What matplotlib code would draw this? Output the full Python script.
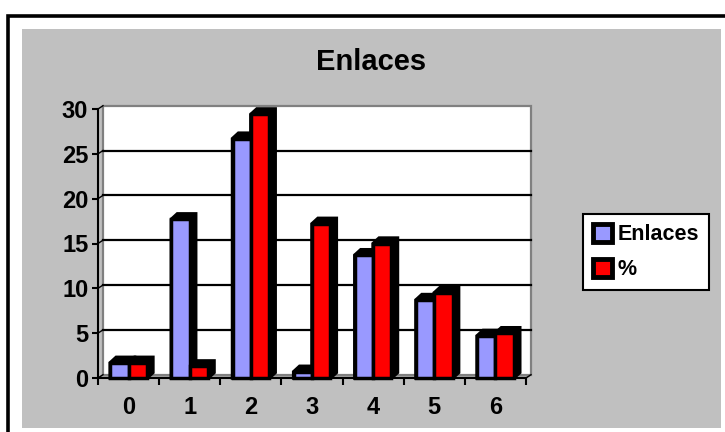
import numpy as np
from matplotlib import pyplot as plt
from matplotlib.patches import Rectangle, Polygon, Patch

categorias = ['0', '1', '2', '3', '4', '5', '6']
enlaces = [2, 18, 27, 1, 14, 9, 5]
porcentaje = [2.0, 1.6, 29.7, 17.5, 15.3, 9.8, 5.3]
y_ticks = [0, 5, 10, 15, 20, 25, 30]
series = ['Enlaces', '%']
colores = ['#9999FF', '#FF0000']

W, H = 725, 432
GRIS = '#C0C0C0'


def main():

	plt.rcParams['font.family'] = ['Liberation Sans', 'DejaVu Sans']
	plt.rcParams['font.weight'] = 'bold'

	fig = plt.figure(figsize=(W / 100, H / 100), dpi=100)
	fig.patch.set_facecolor('white')

	# marco negro y fondo gris del grafico
	fig.patches.append(Rectangle((7.7 / W, -0.2), 1.2, 1 - 15.7 / H + 0.2, transform=fig.transFigure,
		fc='none', ec='black', lw=2.6, clip_on=False, zorder=-10))
	fig.patches.append(Rectangle((22 / W, 1 - 427.7 / H), (720.7 - 22) / W, (427.7 - 29) / H,
		transform=fig.transFigure, fc=GRIS, ec='none', zorder=-9))

	# ejes en pixeles: x 98..526, y 378..109
	x_izq, x_der, y_base, y_tope = 98, 526, 378, 109
	ax = fig.add_axes([x_izq / W, (H - y_base) / H, (x_der - x_izq) / W, (y_base - y_tope) / H])
	ax.set_xlim(-0.5, len(categorias) - 0.5)
	ax.set_ylim(0, 30)
	ax.patch.set_visible(False)

	px_x = (x_der - x_izq) / len(categorias)
	px_y = (y_base - y_tope) / 30.0

	# profundidad de la pared y de las barras
	wdx, wdy = 5 / px_x, 3.3 / px_y
	bdx, bdy = 6 / px_x, 5.5 / px_y

	x0w, x1w = -0.5, len(categorias) - 0.5

	ax.add_patch(Polygon([(x0w, 0), (x1w, 0), (x1w + wdx, wdy), (x0w + wdx, wdy)],
		fc='#A6A6A6', ec='#808080', lw=1, zorder=0.5, clip_on=False))
	ax.add_patch(Rectangle((x0w + wdx, wdy), x1w - x0w, 30, fc='white', ec='#808080',
		lw=1.6, zorder=0.6, clip_on=False))

	for y in y_ticks[1:-1]:
		ax.plot([x0w + wdx, x1w + wdx], [y + wdy, y + wdy], color='black', lw=1.6, zorder=1, clip_on=False)
	for y in y_ticks:
		ax.plot([x0w, x0w + wdx], [y, y + wdy], color='black', lw=1, zorder=1, clip_on=False)
	ax.plot([x1w, x1w + wdx], [0, wdy], color='black', lw=1, zorder=1, clip_on=False)

	ancho = 0.3
	for s, (vals, color) in enumerate(zip([enlaces, porcentaje], colores)):
		for i, v in enumerate(vals):
			x0 = i - ancho + s * ancho
			x1 = x0 + ancho
			h = v - bdy / 2
			ax.add_patch(Polygon([(x0, 0), (x1, 0), (x1 + bdx, bdy), (x1 + bdx, h + bdy), (x0 + bdx, h + bdy), (x0, h)],
				fc='black', ec='black', lw=2.5, zorder=3, clip_on=False))
			ax.add_patch(Rectangle((x0, 0), ancho, h, fc=color, ec='black', lw=2.5, zorder=4, clip_on=False))

	for lado in ['top', 'right']:
		ax.spines[lado].set_visible(False)
	for lado in ['left', 'bottom']:
		ax.spines[lado].set_linewidth(1.5)
		ax.spines[lado].set_zorder(2)

	ax.set_yticks(y_ticks)
	ax.set_yticklabels([str(t) for t in y_ticks])
	ax.tick_params(axis='y', length=4, width=1.5, labelsize=17, pad=3)

	ax.set_xticks(np.arange(-0.5, len(categorias), 1.0))
	ax.set_xticklabels([])
	ax.set_xticks(np.arange(len(categorias)), minor=True)
	ax.set_xticklabels(categorias, minor=True)
	ax.tick_params(axis='x', which='major', length=5, width=1.5)
	ax.tick_params(axis='x', which='minor', length=0, labelsize=17, pad=13)

	fig.text(371 / W, 1 - 62 / H, 'Enlaces', ha='center', va='center', fontsize=21, fontweight='bold')

	handles = [Patch(fc=c, ec='black', lw=3.5, label=n) for c, n in zip(colores, series)]
	leg = fig.legend(handles=handles, loc='upper left', bbox_to_anchor=(583 / W, 1 - 214 / H),
		bbox_transform=fig.transFigure, fancybox=False, edgecolor='black', framealpha=1,
		prop={'weight': 'bold', 'size': 15.5}, handlelength=0.9, handleheight=0.9,
		handletextpad=0.25, labelspacing=0.65, borderpad=0.45, borderaxespad=0)
	leg.get_frame().set_linewidth(1.5)

	plt.savefig('out.png', dpi=100)


if __name__ == '__main__':
	main()
